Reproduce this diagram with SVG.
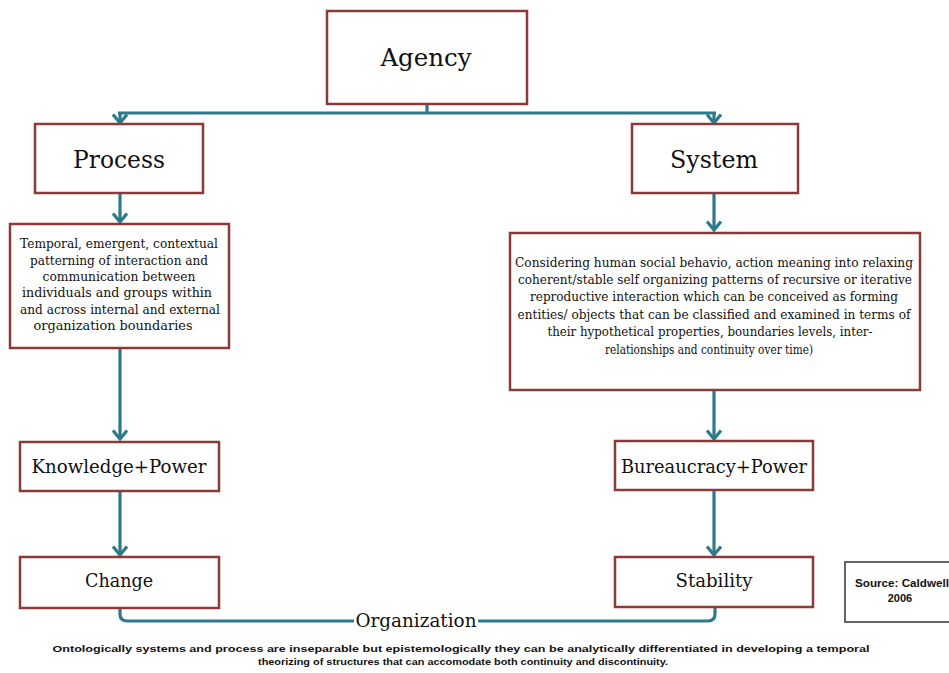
<svg xmlns="http://www.w3.org/2000/svg" width="949" height="673" viewBox="0 0 949 673">
<style>
.box{fill:#fff;stroke:#8a3b37;stroke-width:2.5}
.con{fill:none;stroke:#2c7a8b;stroke-width:3.2}
.t{font-family:"DejaVu Serif","Liberation Serif",serif;fill:#111;text-anchor:middle}
.h1{font-size:24.5px}
.h2{font-size:18.5px}
.d{font-size:12px}
.s{font-family:"Liberation Sans",Arial,sans-serif;font-weight:bold;fill:#111;text-anchor:middle}
</style>
<defs>
<marker id="ah" markerUnits="userSpaceOnUse" viewBox="-12 -9 14 18" refX="0" refY="0" markerWidth="14" markerHeight="18" orient="auto">
<path d="M-8.5,-7 L0,0 L-8.5,7" fill="none" stroke="#2c7a8b" stroke-width="3.2" stroke-linejoin="miter"/>
</marker>
</defs>
<rect width="949" height="673" fill="#fff"/>
<g id="connectors">
<path class="con" d="M427,104 V113"/>
<path class="con" d="M118,113 H716"/>
<path class="con" d="M120,113 V123" marker-end="url(#ah)"/>
<path class="con" d="M714,113 V123" marker-end="url(#ah)"/>
<path class="con" d="M120,193 V222" marker-end="url(#ah)"/>
<path class="con" d="M714,193 V230" marker-end="url(#ah)"/>
<path class="con" d="M120,348 V439" marker-end="url(#ah)"/>
<path class="con" d="M714,390 V439" marker-end="url(#ah)"/>
<path class="con" d="M120,491 V555" marker-end="url(#ah)"/>
<path class="con" d="M714,491 V555" marker-end="url(#ah)"/>
<path class="con" d="M120,608 V614 Q120,621 127,621 H708 Q715,621 715,614 V607"/>
</g>
<g id="agency"><rect class="box" x="327" y="11" width="200" height="93"/><text class="t h1" x="426" y="66">Agency</text></g>
<g id="process"><rect class="box" x="35" y="124" width="168" height="69"/><text class="t h1" x="119" y="168" textLength="92" lengthAdjust="spacingAndGlyphs">Process</text></g>
<g id="system"><rect class="box" x="632" y="124" width="166" height="69"/><text class="t h1" x="714" y="168" textLength="88" lengthAdjust="spacingAndGlyphs">System</text></g>
<g id="process-desc"><rect class="box" x="10" y="224" width="219" height="124"/>
<text class="t d" x="119" y="248" textLength="198" lengthAdjust="spacingAndGlyphs">Temporal, emergent, contextual</text>
<text class="t d" x="119" y="265" textLength="178" lengthAdjust="spacingAndGlyphs">patterning of interaction and</text>
<text class="t d" x="119" y="281" textLength="153" lengthAdjust="spacingAndGlyphs">communication between</text>
<text class="t d" x="117" y="297" textLength="190" lengthAdjust="spacingAndGlyphs">individuals and groups within</text>
<text class="t d" x="120" y="314" textLength="200" lengthAdjust="spacingAndGlyphs">and across internal and external</text>
<text class="t d" x="113" y="330" textLength="159" lengthAdjust="spacingAndGlyphs">organization boundaries</text>
</g>
<g id="system-desc"><rect class="box" x="510" y="233" width="410" height="157"/>
<text class="t d" x="714" y="267" textLength="398" lengthAdjust="spacingAndGlyphs">Considering human social behavio, action meaning into relaxing</text>
<text class="t d" x="715" y="284" textLength="394" lengthAdjust="spacingAndGlyphs">coherent/stable self organizing patterns of recursive or iterative</text>
<text class="t d" x="714" y="301" textLength="368" lengthAdjust="spacingAndGlyphs">reproductive interaction which can be conceived as forming</text>
<text class="t d" x="714" y="319" textLength="393" lengthAdjust="spacingAndGlyphs">entities/ objects that can be classified and examined in terms of</text>
<text class="t d" x="710" y="336" textLength="325" lengthAdjust="spacingAndGlyphs">their hypothetical properties, boundaries levels, inter-</text>
<text class="t d" x="709" y="354" textLength="208" lengthAdjust="spacingAndGlyphs">relationships and continuity over time)</text>
</g>
<g id="knowledge-power"><rect class="box" x="20" y="442" width="199" height="49"/><text class="t h2" x="119" y="473" textLength="175" lengthAdjust="spacingAndGlyphs">Knowledge+Power</text></g>
<g id="bureaucracy-power"><rect class="box" x="615" y="441" width="198" height="49"/><text class="t h2" x="714" y="473" textLength="186" lengthAdjust="spacingAndGlyphs">Bureaucracy+Power</text></g>
<g id="change"><rect class="box" x="20" y="557" width="199" height="51"/><text class="t h2" x="119" y="587" textLength="68" lengthAdjust="spacingAndGlyphs">Change</text></g>
<g id="stability"><rect class="box" x="615" y="557" width="198" height="50"/><text class="t h2" x="714" y="587" textLength="77" lengthAdjust="spacingAndGlyphs">Stability</text></g>
<g id="organization"><rect x="354" y="610" width="124" height="20" fill="#fff"/><text class="t" x="416" y="627" font-size="18" textLength="121" lengthAdjust="spacingAndGlyphs">Organization</text></g>
<g id="source"><rect x="845" y="562" width="130" height="60" fill="#fff" stroke="#333" stroke-width="1.5"/>
<text class="s" x="902" y="587" font-size="11" textLength="94" lengthAdjust="spacingAndGlyphs">Source: Caldwell</text>
<text class="s" x="900" y="602" font-size="11">2006</text>
</g>
<g id="caption">
<text class="s" x="461" y="652" font-size="9.5" textLength="817" lengthAdjust="spacingAndGlyphs">Ontologically systems and process are inseparable but epistemologically they can be analytically differentiated in developing a temporal</text>
<text class="s" x="463" y="665" font-size="9.5" textLength="410" lengthAdjust="spacingAndGlyphs">theorizing of structures that can accomodate both continuity and discontinuity.</text>
</g>
</svg>
